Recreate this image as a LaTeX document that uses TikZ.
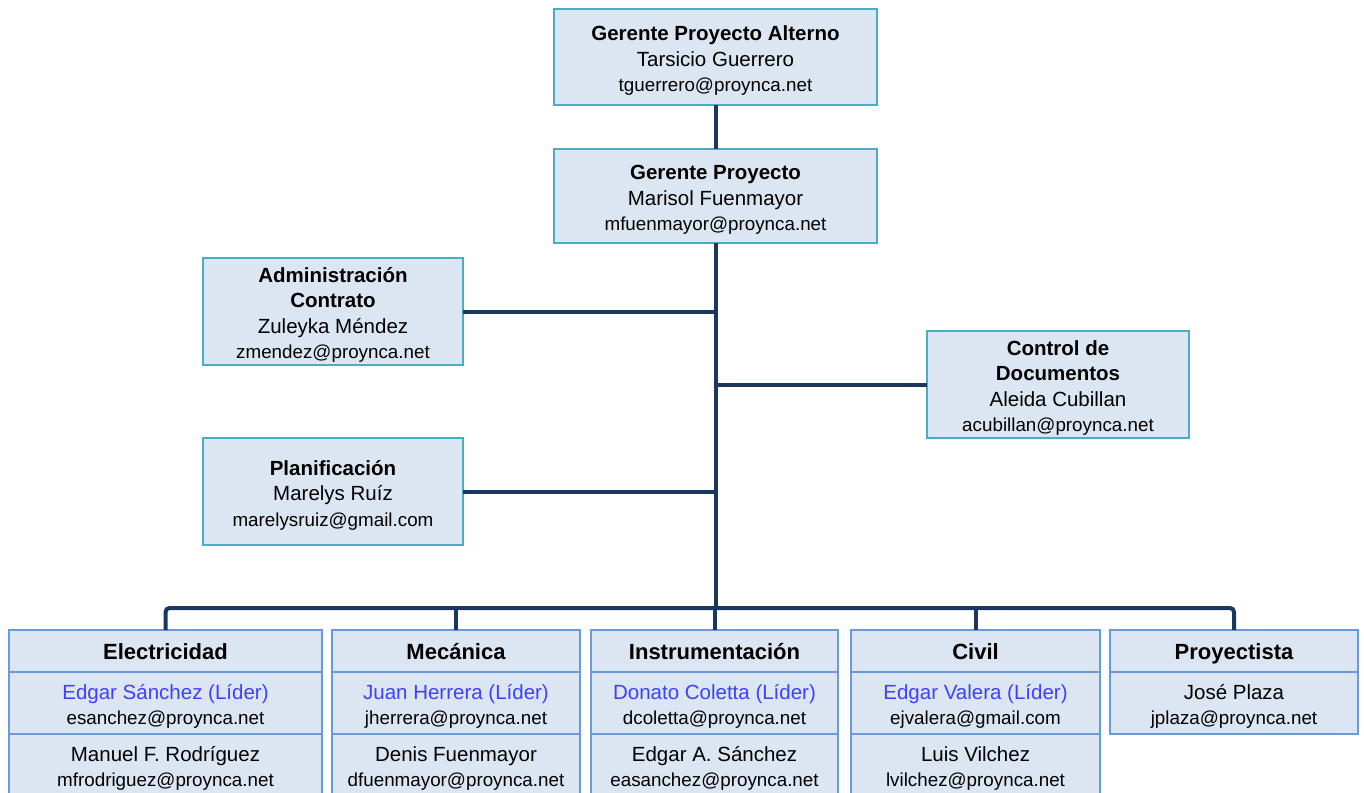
\documentclass[tikz,border=0pt]{standalone}
\usepackage{fontspec}
\setmainfont{Liberation Sans}
\usetikzlibrary{positioning}

\definecolor{boxfill}{HTML}{DCE6F2}
\definecolor{boxline}{HTML}{4BACC6}
\definecolor{cellline}{HTML}{6A9BD8}
\definecolor{linknavy}{HTML}{1B3760}
\definecolor{leadblue}{HTML}{3F3FFF}

% first line gets a taller strut so the text block sits a little low, as in the chart
\newcommand{\rtop}{\rule{0pt}{22pt}}
\newcommand{\rtitle}[1]{{\bfseries #1}}
\newcommand{\rname}[1]{{#1}}
\newcommand{\rmail}[1]{{\fontsize{18.8}{24}\selectfont #1}}
\newcommand{\rlead}[1]{{\color{leadblue}#1}}

\tikzset{
	role/.style={draw=boxline, fill=boxfill, line width=1.5pt, align=center,
		inner sep=0pt, outer sep=0pt, font=\fontsize{20.5}{25.5}\selectfont},
	cell/.style={draw=cellline, fill=boxfill, line width=1.5pt, align=center,
		inner sep=0pt, outer sep=0pt, font=\fontsize{20.5}{24.5}\selectfont},
	head/.style={cell, minimum height=42pt, text height=18.5pt, text depth=1pt,
		font=\fontsize{22}{26}\selectfont\bfseries},
	link/.style={draw=linknavy, line width=4pt},
}

\begin{document}
\begin{tikzpicture}[x=1pt, y=-1pt]
	\useasboundingbox (0,0) rectangle (1364,792);
	\clip (0,0) rectangle (1364,792);

	% upper boxes
	\node[role, minimum width=323pt, minimum height=96pt] (alt) at (715.5,57)
		{\rtop\rtitle{Gerente Proyecto Alterno}\\ \rname{Tarsicio Guerrero}\\ \rmail{tguerrero@proynca.net}};
	\node[role, minimum width=323pt, minimum height=94pt] (gp) at (715.5,196)
		{\rtop\rtitle{Gerente Proyecto}\\ \rname{Marisol Fuenmayor}\\ \rmail{mfuenmayor@proynca.net}};
	\node[role, minimum width=260pt, minimum height=107pt] (admin) at (333,311.5)
		{\rtop\rtitle{Administración}\\ \rtitle{Contrato}\\ \rname{Zuleyka Méndez}\\ \rmail{zmendez@proynca.net}};
	\node[role, minimum width=260pt, minimum height=107pt] (plan) at (333,491.5)
		{\rtop\rtitle{Planificación}\\ \rname{Marelys Ruíz}\\ \rmail{marelysruiz@gmail.com}};
	\node[role, minimum width=262pt, minimum height=107pt] (ctrl) at (1058,384.5)
		{\rtop\rtitle{Control de}\\ \rtitle{Documentos}\\ \rname{Aleida Cubillan}\\ \rmail{acubillan@proynca.net}};

	% disciplines
	\node[head, minimum width=313pt] (elecH) at (165.5,651) {Electricidad};
	\node[cell, minimum width=313pt, minimum height=62pt, below=0pt of elecH] (elecL)
		{\rtop\rlead{Edgar Sánchez (Líder)}\\ \rmail{esanchez@proynca.net}};
	\node[cell, minimum width=313pt, minimum height=62pt, below=0pt of elecL] (elecM)
		{\rtop\rname{Manuel F. Rodríguez}\\ \rmail{mfrodriguez@proynca.net}};

	\node[head, minimum width=248pt] (mecH) at (456,651) {Mecánica};
	\node[cell, minimum width=248pt, minimum height=62pt, below=0pt of mecH] (mecL)
		{\rtop\rlead{Juan Herrera (Líder)}\\ \rmail{jherrera@proynca.net}};
	\node[cell, minimum width=248pt, minimum height=62pt, below=0pt of mecL] (mecM)
		{\rtop\rname{Denis Fuenmayor}\\ \rmail{dfuenmayor@proynca.net}};

	\node[head, minimum width=247pt] (instH) at (714.5,651) {Instrumentación};
	\node[cell, minimum width=247pt, minimum height=62pt, below=0pt of instH] (instL)
		{\rtop\rlead{Donato Coletta (Líder)}\\ \rmail{dcoletta@proynca.net}};
	\node[cell, minimum width=247pt, minimum height=62pt, below=0pt of instL] (instM)
		{\rtop\rname{Edgar A. Sánchez}\\ \rmail{easanchez@proynca.net}};

	\node[head, minimum width=249pt] (civH) at (975.5,651) {Civil};
	\node[cell, minimum width=249pt, minimum height=62pt, below=0pt of civH] (civL)
		{\rtop\rlead{Edgar Valera (Líder)}\\ \rmail{ejvalera@gmail.com}};
	\node[cell, minimum width=249pt, minimum height=62pt, below=0pt of civL] (civM)
		{\rtop\rname{Luis Vilchez}\\ \rmail{lvilchez@proynca.net}};

	\node[head, minimum width=248pt] (proyH) at (1234,651) {Proyectista};
	\node[cell, minimum width=248pt, minimum height=62pt, below=0pt of proyH] (proyL)
		{\rtop\rname{José Plaza}\\ \rmail{jplaza@proynca.net}};

	% connectors
	\coordinate (bus) at (715.5,608);
	\draw[link] (alt.south) -- (gp.north);
	\draw[link] (gp.south) -- (bus);
	\draw[link] (admin.east) -- (admin.east -| gp.south);
	\draw[link] (plan.east) -- (plan.east -| gp.south);
	\draw[link] (ctrl.west) -- (ctrl.west -| gp.south);
	\draw[link, rounded corners=4pt] (elecH.north) -- (elecH.north |- bus) -- (proyH.north |- bus) -- (proyH.north);
	\draw[link] (mecH.north) -- (mecH.north |- bus);
	\draw[link] (instH.north) -- (instH.north |- bus);
	\draw[link] (civH.north) -- (civH.north |- bus);
\end{tikzpicture}
\end{document}
